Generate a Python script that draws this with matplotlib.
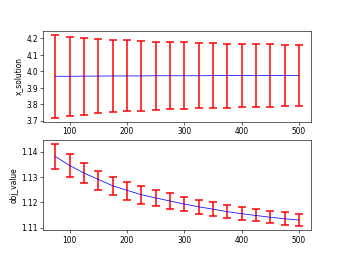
import matplotlib
matplotlib.use('Agg')
import matplotlib.pyplot as plt

sizes = [75, 100, 125, 150, 175, 200, 225, 250, 275, 300, 325, 350, 375, 400, 425, 450, 475, 500]

# x_solution: upper and lower ends of error bars
x_upper = [4.22, 4.21, 4.205, 4.197, 4.192, 4.188, 4.183, 4.18, 4.177,
           4.175, 4.172, 4.17, 4.168, 4.166, 4.165, 4.163, 4.161, 4.16]
x_lower = [3.72, 3.73, 3.737, 3.745, 3.752, 3.757, 3.762, 3.766, 3.769,
           3.772, 3.775, 3.778, 3.78, 3.782, 3.784, 3.786, 3.788, 3.79]
x_mean = [3.970, 3.970, 3.971, 3.971, 3.972, 3.972, 3.972, 3.973, 3.973,
          3.973, 3.973, 3.974, 3.974, 3.974, 3.974, 3.974, 3.974, 3.974]

obj_mean = [1.1380, 1.1345, 1.1315, 1.1290, 1.1265, 1.1247, 1.1230, 1.1217, 1.1205,
            1.1193, 1.1182, 1.1173, 1.1163, 1.1155, 1.1148, 1.1141, 1.1135, 1.1130]
obj_upper = [1.1430, 1.1390, 1.1355, 1.1325, 1.1300, 1.1280, 1.1263, 1.1248, 1.1235,
             1.1222, 1.1210, 1.1200, 1.1190, 1.1180, 1.1173, 1.1166, 1.1160, 1.1155]
obj_lower = [1.1330, 1.1300, 1.1275, 1.1250, 1.1230, 1.1210, 1.1195, 1.1185, 1.1173,
             1.1165, 1.1155, 1.1145, 1.1138, 1.1130, 1.1125, 1.1117, 1.1111, 1.1105]

fig, (ax1, ax2) = plt.subplots(2, 1, figsize=(6.4, 4.8), dpi=54)

x_err = [[m - l for m, l in zip(x_mean, x_lower)], [u - m for m, u in zip(x_mean, x_upper)]]
ax1.errorbar(sizes, x_mean, yerr=x_err, fmt='b-', ecolor='r', elinewidth=2,
             capsize=5, capthick=2, linewidth=1)
ax1.set_ylabel('x_solution')

o_err = [[m - l for m, l in zip(obj_mean, obj_lower)], [u - m for m, u in zip(obj_mean, obj_upper)]]
ax2.errorbar(sizes, obj_mean, yerr=o_err, fmt='b-', ecolor='r', elinewidth=2,
             capsize=5, capthick=2, linewidth=1)
ax2.set_ylabel('obj_value')

fig.savefig('out.png', dpi=54)
